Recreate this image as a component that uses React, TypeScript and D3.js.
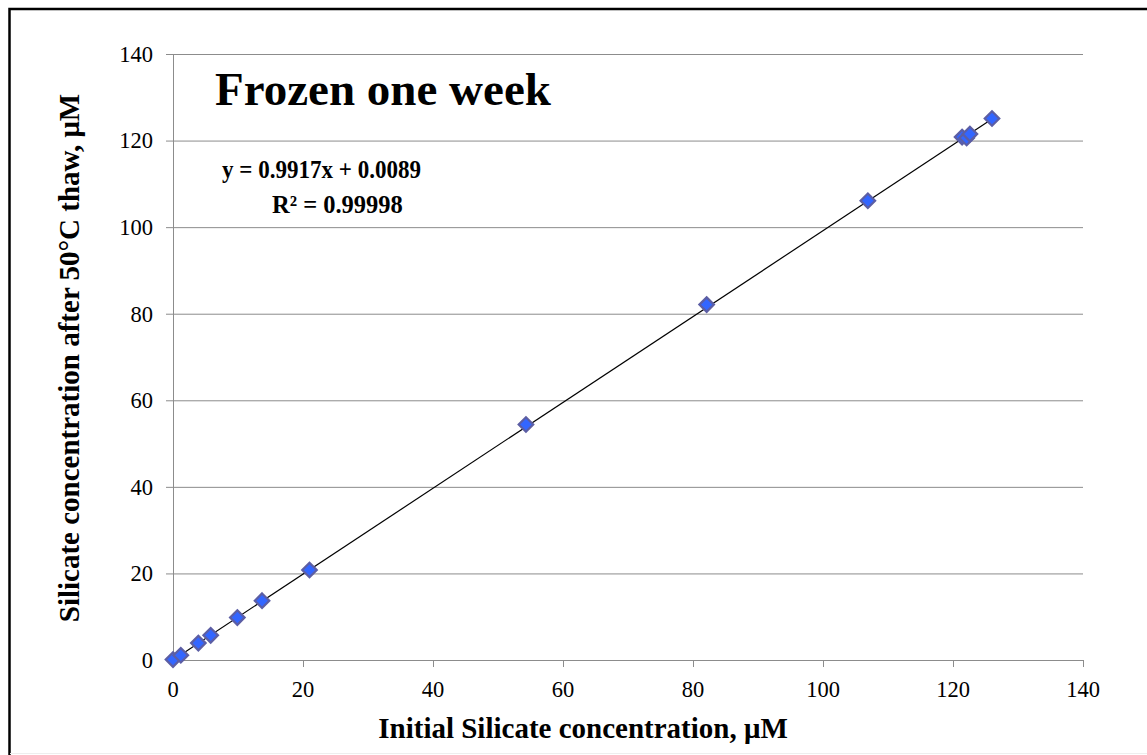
import { useMemo } from "react";
import * as d3 from "d3";

const width = 1147;
const height = 755;

// plot area in pixels
const plotLeft = 173;
const plotRight = 1083;
const plotTop = 54;
const plotBottom = 660;

const xTicks = [0, 20, 40, 60, 80, 100, 120, 140];
const yTicks = [0, 20, 40, 60, 80, 100, 120, 140];

// measured points, initial vs after thaw
const initialSi = [0, 1.2, 3.9, 5.8, 9.9, 13.7, 21.0, 54.3, 82.1, 106.9, 121.4, 122.1, 122.6, 126.0];
const thawedSi = [0.1, 1.1, 3.9, 5.7, 9.8, 13.7, 20.8, 54.4, 82.1, 106.1, 120.8, 120.6, 121.5, 125.1];

const slope = 0.9917;
const intercept = 0.0089;
const fitRange = [0, 126];

const fontFamily = "'Liberation Serif', 'Times New Roman', serif";
const gridColor = "#8c8c8c";

const App = () => {
  const xScale = d3.scaleLinear().domain([0, 140]).range([plotLeft, plotRight]);
  const yScale = d3.scaleLinear().domain([0, 140]).range([plotBottom, plotTop]);

  const points = useMemo(
    () => initialSi.map((x, i) => ({ x, y: thawedSi[i] })),
    []
  );

  const fitLine = d3
    .line<number>()
    .x((d) => xScale(d))
    .y((d) => yScale(slope * d + intercept))(fitRange);

  const diamond = d3.symbol().type(d3.symbolDiamond2).size(135)();

  return (
    <svg
      width={width}
      height={height}
      viewBox={`0 0 ${width} ${height}`}
      style={{ position: "absolute", left: 0, top: 0, background: "#fff" }}
      fontFamily={fontFamily}
    >
      {/* chart border */}
      <rect x={9.5} y={9} width={1150} height={760} fill="#fff" stroke="#000" strokeWidth={2.5} />
      <line x1={10} x2={width} y1={753.5} y2={753.5} stroke="#eee" />

      {/* horizontal gridlines */}
      <g className="grid">
        {yTicks.map((t) => (
          <line
            key={t}
            x1={plotLeft - 7}
            x2={plotRight}
            y1={yScale(t) + 0.5}
            y2={yScale(t) + 0.5}
            stroke={gridColor}
            strokeWidth={1}
          />
        ))}
      </g>

      {/* axes */}
      <line x1={plotLeft + 0.5} x2={plotLeft + 0.5} y1={plotTop} y2={plotBottom} stroke={gridColor} />
      {xTicks.map((t) => (
        <line
          key={t}
          x1={xScale(t) + 0.5}
          x2={xScale(t) + 0.5}
          y1={plotBottom}
          y2={plotBottom + 7}
          stroke={gridColor}
        />
      ))}

      {/* tick labels */}
      <g fontSize={22.5} fill="#000">
        {yTicks.map((t) => (
          <text key={t} x={153} y={yScale(t)} dy="0.35em" textAnchor="end">
            {t}
          </text>
        ))}
        {xTicks.map((t) => (
          <text key={t} x={xScale(t)} y={697} textAnchor="middle">
            {t}
          </text>
        ))}
      </g>

      {/* trendline */}
      <path d={fitLine ?? ""} fill="none" stroke="#000" strokeWidth={1.2} />

      {/* markers */}
      <g>
        {points.map((d, i) => (
          <path
            key={i}
            d={diamond ?? ""}
            transform={`translate(${xScale(d.x)},${yScale(d.y)})`}
            fill="#3366ff"
            stroke="#5c5ea4"
            strokeWidth={2.2}
          />
        ))}
      </g>

      {/* title and equation */}
      <text x={215} y={105} fontSize={47} fontWeight="bold">
        Frozen one week
      </text>
      <g fontSize={24.5} fontWeight="bold">
        <text x={222} y={178} textLength={199} lengthAdjust="spacingAndGlyphs">
          y = 0.9917x + 0.0089
        </text>
        <text x={272} y={213}>
          R² = 0.99998
        </text>
      </g>

      {/* axis titles */}
      <text x={583} y={738} fontSize={29} fontWeight="bold" textAnchor="middle">
        Initial Silicate concentration, μM
      </text>
      <text
        transform={`translate(79,358) rotate(-90)`}
        fontSize={29}
        fontWeight="bold"
        textAnchor="middle"
      >
        Silicate concentration after 50°C thaw, μM
      </text>
    </svg>
  );
};

export default App;
